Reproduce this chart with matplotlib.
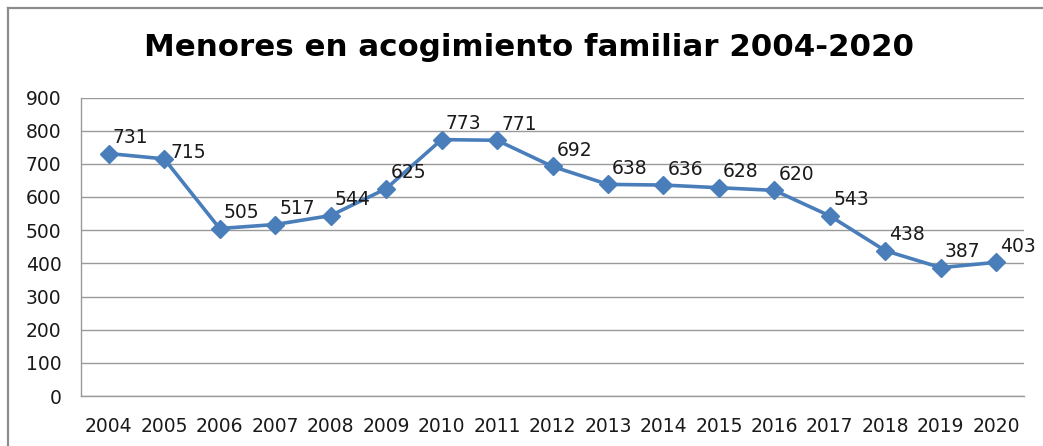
import matplotlib
matplotlib.use("Agg")
import matplotlib.pyplot as plt
from matplotlib.lines import Line2D

years = ["2004", "2005", "2006", "2007", "2008", "2009", "2010", "2011", "2012",
         "2013", "2014", "2015", "2016", "2017", "2018", "2019", "2020"]
values = [731, 715, 505, 517, 544, 625, 773, 771, 692, 638, 636, 628, 620, 543, 438, 387, 403]
title = "Menores en acogimiento familiar 2004-2020"

W, H = 1043, 446
fig = plt.figure(figsize=(W / 100, H / 100), dpi=100)
fig.patch.set_facecolor("white")

# outer chart border (left and top visible)
fig.add_artist(Line2D([8 / W, 8 / W], [0, 1 - 8 / H], transform=fig.transFigure,
                      color="#8c8c8c", lw=1.6))
fig.add_artist(Line2D([8 / W, 1], [1 - 8 / H, 1 - 8 / H], transform=fig.transFigure,
                      color="#8c8c8c", lw=1.6))

left, right, top, bottom = 81, 1024, 97.5, 396
ax = fig.add_axes([left / W, (H - bottom) / H, (right - left) / W, (bottom - top) / H])

x = list(range(len(years)))
ax.plot(x, values, color="#4A7EBB", lw=2.6, marker="D", markersize=9.5,
        markerfacecolor="#4A7EBB", markeredgecolor="#4A7EBB", zorder=3, clip_on=False)

ax.set_xlim(-0.5, len(years) - 0.5)
ax.set_ylim(0, 900)
ax.set_yticks(range(0, 901, 100))
ax.set_xticks(x)
ax.set_xticklabels(years)
ax.yaxis.grid(True, color="#9a9a9a", lw=1.0)
ax.set_axisbelow(True)
for s in ["top", "right"]:
    ax.spines[s].set_visible(False)
for s in ["left", "bottom"]:
    ax.spines[s].set_color("#9a9a9a")
    ax.spines[s].set_linewidth(1.0)
ax.tick_params(length=0, labelsize=13.5, colors="#1a1a1a")
ax.tick_params(axis="y", pad=14)
ax.tick_params(axis="x", pad=15)

for i, v in enumerate(values):
    dx, dy = (24, 6) if i == 1 else (22, 16)
    ax.annotate(str(v), (i, v), xytext=(dx * 0.72, dy * 0.72), textcoords="offset points",
                ha="center", va="center", fontsize=13.5, color="#1a1a1a")

fig.text(529 / W, 1 - 48 / H, title, ha="center", va="center", fontsize=22.2,
         fontweight="bold", color="black")

fig.savefig("out.png", dpi=100)
